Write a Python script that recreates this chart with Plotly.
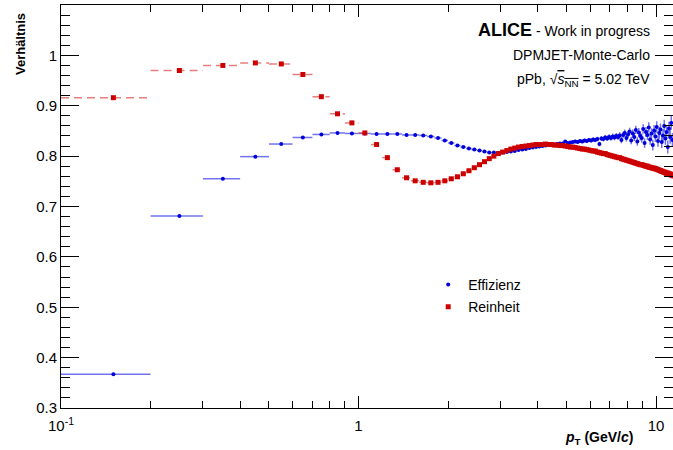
import math
import plotly.graph_objects as go

# ---------------- data ----------------
pt_edges = [
    0.1, 0.2, 0.3, 0.4, 0.5, 0.6, 0.7, 0.8, 0.9, 1.0,
    1.1, 1.2, 1.3, 1.4, 1.5, 1.6, 1.7, 1.8, 1.9, 2.0,
    2.1, 2.2, 2.3, 2.4, 2.5, 2.6, 2.7, 2.8, 2.9, 3.0,
    3.1, 3.2, 3.3, 3.4, 3.5, 3.6, 3.7, 3.8, 3.9, 4.0,
    4.1, 4.2, 4.3, 4.4, 4.5, 4.6, 4.7, 4.8, 4.9, 5.0,
    5.1, 5.2, 5.3, 5.4, 5.5, 5.6, 5.7, 5.8, 5.9, 6.0,
    6.1, 6.2, 6.3, 6.4, 6.5, 6.6, 6.7, 6.8, 6.9, 7.0,
    7.1, 7.2, 7.3, 7.4, 7.5, 7.6, 7.7, 7.8, 7.9, 8.0,
    8.1, 8.2, 8.3, 8.4, 8.5, 8.6, 8.7, 8.8, 8.9, 9.0,
    9.1, 9.2, 9.3, 9.4, 9.5, 9.6, 9.7, 9.8, 9.9, 10.0,
    10.1, 10.2, 10.3, 10.4, 10.5, 10.6, 10.7, 10.8, 10.9, 11.0,
    11.1, 11.2, 11.3, 11.4,
]

eff_vals = [
    0.367, 0.681, 0.755, 0.799, 0.824, 0.837, 0.843, 0.846, 0.845,
    0.845, 0.844, 0.844, 0.844, 0.842, 0.842, 0.841, 0.839, 0.836, 0.831,
    0.826, 0.821, 0.818, 0.815, 0.813, 0.811, 0.809, 0.807, 0.807, 0.806,
    0.807, 0.808, 0.809, 0.810, 0.812, 0.813, 0.814, 0.816, 0.817, 0.818,
    0.819, 0.820, 0.821, 0.822, 0.823, 0.823, 0.824, 0.825, 0.825, 0.829,
    0.826, 0.827, 0.828, 0.829, 0.828, 0.830, 0.829, 0.831, 0.830, 0.832,
    0.831, 0.833, 0.832, 0.834, 0.824, 0.835, 0.834, 0.837, 0.835, 0.838,
    0.836, 0.839, 0.837, 0.840, 0.838, 0.841, 0.832, 0.842, 0.846, 0.836,
    0.843, 0.849, 0.831, 0.845, 0.838, 0.852, 0.829, 0.847, 0.840, 0.836,
    0.854, 0.826, 0.848, 0.842, 0.857, 0.833, 0.845, 0.822, 0.851, 0.839,
    0.858, 0.830, 0.846, 0.853, 0.828, 0.841, 0.860, 0.835, 0.848, 0.818,
    0.855, 0.838, 0.866, 0.832,
]

eff_errs = [
    0.002, 0.001, 0.001, 0.001, 0.001, 0.001, 0.001, 0.001, 0.001,
    0.001, 0.001, 0.001, 0.001, 0.001, 0.001, 0.001, 0.001, 0.001, 0.001,
    0.001, 0.001, 0.001, 0.001, 0.001, 0.001, 0.001, 0.001, 0.0015, 0.0015,
    0.0015, 0.0015, 0.0015, 0.0015, 0.0018, 0.0018, 0.0018, 0.002, 0.002, 0.002,
    0.002, 0.0022, 0.0022, 0.0024, 0.0024, 0.0025, 0.0026, 0.0027, 0.0028, 0.003,
    0.003, 0.0031, 0.0032, 0.0033, 0.0034, 0.0035, 0.0036, 0.0037, 0.0038, 0.004,
    0.004, 0.0042, 0.0043, 0.0045, 0.0046, 0.0048, 0.0049, 0.005, 0.0052, 0.0054,
    0.0055, 0.0057, 0.0058, 0.006, 0.0062, 0.0064, 0.0065, 0.0067, 0.0069, 0.007,
    0.0072, 0.0074, 0.0076, 0.0078, 0.008, 0.0082, 0.0084, 0.0086, 0.0088, 0.009,
    0.0092, 0.0094, 0.0096, 0.0098, 0.01, 0.0102, 0.0104, 0.0106, 0.0108, 0.011,
    0.0112, 0.0114, 0.0116, 0.0118, 0.012, 0.0122, 0.0124, 0.0126, 0.0128, 0.013,
    0.0132, 0.0134, 0.0136, 0.0138,
]

rein_vals = [
    0.916, 0.970, 0.980, 0.985, 0.983, 0.962, 0.918, 0.884, 0.866,
    0.846, 0.823, 0.797, 0.773, 0.757, 0.751, 0.748, 0.747, 0.748, 0.751,
    0.755, 0.759, 0.765, 0.771, 0.777, 0.783, 0.789, 0.795, 0.800, 0.805,
    0.808, 0.811, 0.814, 0.816, 0.818, 0.819, 0.820, 0.821, 0.822, 0.823,
    0.823, 0.823, 0.824, 0.823, 0.823, 0.822, 0.822, 0.821, 0.821, 0.820,
    0.819, 0.818, 0.818, 0.817, 0.816, 0.815, 0.814, 0.814, 0.813, 0.812,
    0.811, 0.810, 0.810, 0.808, 0.807, 0.806, 0.805, 0.805, 0.803, 0.802,
    0.801, 0.800, 0.799, 0.798, 0.797, 0.797, 0.795, 0.794, 0.793, 0.792,
    0.791, 0.790, 0.789, 0.788, 0.787, 0.786, 0.785, 0.784, 0.783, 0.783,
    0.782, 0.781, 0.780, 0.780, 0.778, 0.778, 0.777, 0.776, 0.776, 0.775,
    0.774, 0.773, 0.772, 0.771, 0.770, 0.769, 0.768, 0.767, 0.766, 0.766,
    0.765, 0.764, 0.763, 0.762,
]

rein_errs = [
    0.001, 0.001, 0.001, 0.001, 0.001, 0.001, 0.001, 0.001, 0.001,
    0.001, 0.001, 0.001, 0.001, 0.001, 0.001, 0.001, 0.001, 0.001, 0.001,
    0.001, 0.001, 0.001, 0.001, 0.001, 0.001, 0.001, 0.001, 0.001, 0.001,
    0.0012, 0.0012, 0.0013, 0.0013, 0.0014, 0.0014, 0.0015, 0.0015, 0.0016, 0.0016,
    0.0017, 0.0017, 0.0018, 0.0018, 0.0019, 0.0019, 0.002, 0.002, 0.0021, 0.0021,
    0.0022, 0.0022, 0.0023, 0.0023, 0.0024, 0.0024, 0.0025, 0.0025, 0.0026, 0.0026,
    0.0027, 0.0027, 0.0028, 0.0028, 0.0029, 0.0029, 0.003, 0.003, 0.0031, 0.0031,
    0.0032, 0.0032, 0.0033, 0.0034, 0.0035, 0.0036, 0.0037, 0.0038, 0.0039, 0.004,
    0.0041, 0.0042, 0.0043, 0.0044, 0.0045, 0.0046, 0.0047, 0.0048, 0.0049, 0.005,
    0.0051, 0.0052, 0.0053, 0.0054, 0.0055, 0.0056, 0.0057, 0.0058, 0.0059, 0.006,
    0.0061, 0.0062, 0.0063, 0.0064, 0.0065, 0.0066, 0.0067, 0.0068, 0.0069, 0.007,
    0.0071, 0.0072, 0.0073, 0.0074,
]

series_names = ["Effizienz", "Reinheit"]

x_tick_vals = [0.1, 1, 10]
x_tick_text = ["10<sup>-1</sup>", "1", "10"]
x_minor_vals = [0.2, 0.3, 0.4, 0.5, 0.6, 0.7, 0.8, 0.9, 2, 3, 4, 5, 6, 7, 8, 9]
y_tick_vals = [0.3, 0.4, 0.5, 0.6, 0.7, 0.8, 0.9, 1.0]
y_tick_text = ["0.3", "0.4", "0.5", "0.6", "0.7", "0.8", "0.9", "1"]

# ---------------- derived ----------------
lo = pt_edges[:-1]
hi = pt_edges[1:]
centers = [(a + b) / 2 for a, b in zip(lo, hi)]


def hbars(vals):
    xs, ys = [], []
    for a, b, v in zip(lo, hi, vals):
        xs += [a, b, None]
        ys += [v, v, None]
    return xs, ys


FONT = "Liberation Sans, Arial, Helvetica, sans-serif"
BLUE = "#0000dd"
BLUE_BAR = "rgba(40,40,230,0.65)"
RED = "#cc0000"
RED_BAR = "rgba(215,40,40,0.6)"

fig = go.Figure()

# Effizienz
bx, by = hbars(eff_vals)
fig.add_trace(go.Scatter(x=bx, y=by, mode="lines", line=dict(color=BLUE_BAR, width=1.5),
                         showlegend=False, hoverinfo="skip"))
fig.add_trace(go.Scatter(
    x=centers, y=eff_vals, mode="markers", name=series_names[0], legendgroup="a",
    marker=dict(symbol="circle", size=4, color=BLUE),
    error_y=dict(type="data", array=eff_errs, visible=True, width=0, thickness=1.5, color=BLUE_BAR),
))

# Reinheit
rx, ry = hbars(rein_vals)
fig.add_trace(go.Scatter(x=rx, y=ry, mode="lines", line=dict(color=RED_BAR, width=1.5, dash="8px,5px"),
                         showlegend=False, hoverinfo="skip"))
fig.add_trace(go.Scatter(
    x=centers, y=rein_vals, mode="markers", name=series_names[1], legendgroup="b",
    marker=dict(symbol="square", size=5, color=RED),
    error_y=dict(type="data", array=rein_errs, visible=True, width=0, thickness=1.5, color=RED_BAR),
))

fig.update_layout(
    width=673, height=450,
    margin=dict(l=61, r=0, t=5, b=42, autoexpand=False),
    paper_bgcolor="white", plot_bgcolor="white",
    font=dict(family=FONT, color="black", size=14),
    showlegend=True,
    legend=dict(x=0.60, y=0.345, xanchor="left", yanchor="top", bgcolor="rgba(0,0,0,0)",
                font=dict(size=14, family=FONT), tracegroupgap=1, traceorder="grouped"),
    xaxis=dict(
        type="log", range=[-1, math.log10(11.4)], automargin=False,
        showline=True, linecolor="black", linewidth=1, mirror="ticks",
        ticks="inside", ticklen=12, tickwidth=1, tickcolor="black",
        tickmode="array", tickvals=x_tick_vals, ticktext=x_tick_text,
        tickfont=dict(size=15, family=FONT), ticklabelstandoff=4,
        minor=dict(tickmode="array", tickvals=x_minor_vals, ticks="inside", ticklen=7,
                   tickwidth=1, tickcolor="black", showgrid=False),
        showgrid=False, zeroline=False,
    ),
    yaxis=dict(
        range=[0.3, 1.1], automargin=False,
        showline=True, linecolor="black", linewidth=1, mirror="ticks",
        ticks="inside", ticklen=18, tickwidth=1, tickcolor="black",
        tickmode="array", tickvals=y_tick_vals, ticktext=y_tick_text,
        tickfont=dict(size=15, family=FONT),
        minor=dict(dtick=0.02, ticks="inside", ticklen=9, tickwidth=1, tickcolor="black", showgrid=False),
        showgrid=False, zeroline=False,
    ),
)

annotations = [
    dict(text="<b><i>p</i><sub>T</sub> (GeV/<i>c</i>)</b>", x=0.82, y=-0.074,
         xref="paper", yref="paper", xanchor="left", yanchor="middle", showarrow=False,
         font=dict(size=14, family=FONT)),
    dict(text="<b>Verhältnis</b>", x=-0.067, y=0.985, xref="paper", yref="paper",
         xanchor="center", yanchor="top", textangle=-90, showarrow=False,
         font=dict(size=13, family=FONT)),
    dict(text="<b><span style='font-size:18px'>ALICE</span></b> - Work in progress",
         x=0.966, y=0.938, xref="paper", yref="paper", xanchor="right", yanchor="middle",
         showarrow=False, font=dict(size=14, family=FONT)),
    dict(text="DPMJET-Monte-Carlo", x=0.966, y=0.876, xref="paper", yref="paper",
         xanchor="right", yanchor="middle", showarrow=False, font=dict(size=14, family=FONT)),
    dict(text="pPb, √<span style='text-decoration:overline'><i>s</i><sub>NN</sub></span> = 5.02 TeV",
         x=0.966, y=0.814, xref="paper", yref="paper", xanchor="right", yanchor="middle",
         showarrow=False, font=dict(size=14, family=FONT)),
]
fig.update_layout(annotations=annotations)

fig.write_html("out.html", config={"displayModeBar": False},
               post_script="document.body.style.margin='0px';")
